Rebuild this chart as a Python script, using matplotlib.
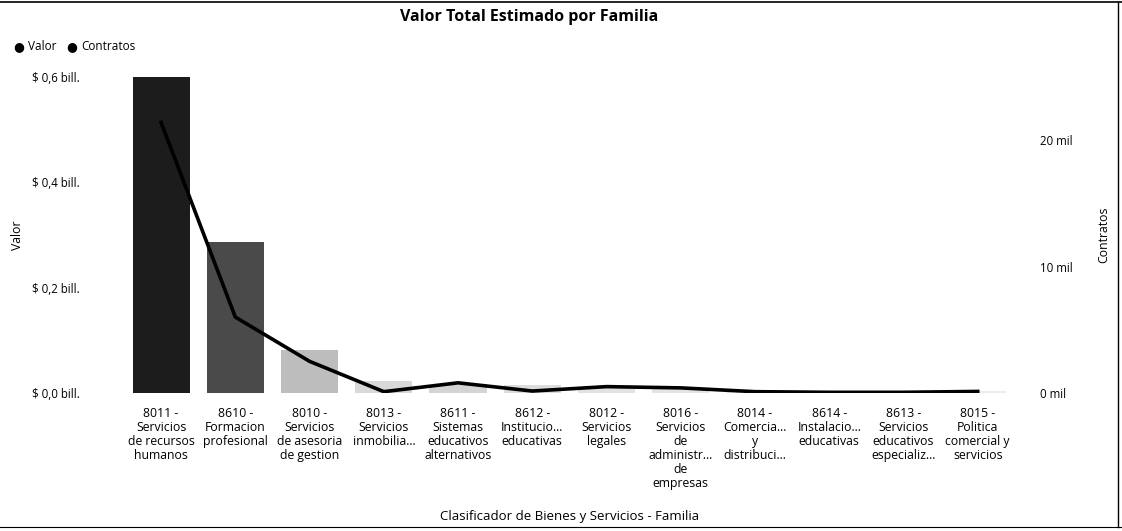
import matplotlib.pyplot as plt
from matplotlib.lines import Line2D
from matplotlib.ticker import FuncFormatter

# Data
categories = [
    "8011 -\nServicios\nde recursos\nhumanos",
    "8610 -\nFormacion\nprofesional",
    "8010 -\nServicios\nde asesoria\nde gestion",
    "8013 -\nServicios\ninmobilia...",
    "8611 -\nSistemas\neducativos\nalternativos",
    "8612 -\nInstitucio...\neducativas",
    "8012 -\nServicios\nlegales",
    "8016 -\nServicios\nde\nadministr...\nde\nempresas",
    "8014 -\nComercia...\ny\ndistribuci...",
    "8614 -\nInstalacio...\neducativas",
    "8613 -\nServicios\neducativos\nespecializ...",
    "8015 -\nPolitica\ncomercial y\nservicios",
]
valor = [0.600, 0.286, 0.082, 0.023, 0.015, 0.015, 0.011, 0.008, 0.003, 0.002, 0.002, 0.003]
contratos = [21400, 6000, 2500, 100, 800, 150, 500, 400, 100, 50, 50, 120]
bar_colors = ["#1c1c1c", "#4a4a4a", "#bdbdbd", "#d9d9d9", "#d4d4d4", "#dcdcdc",
              "#e2e2e2", "#e4e4e4", "#ececec", "#efefef", "#efefef", "#ececec"]

plt.rcParams['font.family'] = ['Open Sans', 'DejaVu Sans']

fig = plt.figure(figsize=(11.22, 5.31), dpi=100)
ax = fig.add_axes([0.1105, 0.26, 0.794, 0.595])
ax2 = ax.twinx()

x = list(range(len(categories)))
ax.bar(x, valor, width=0.77, color=bar_colors, zorder=2)
ax2.plot(x, contratos, color="black", linewidth=2.6, zorder=3)

ax.set_xlim(-0.5, len(categories) - 0.5)
ax.set_ylim(0, 0.6)
ax2.set_ylim(0, 25000)
ax.set_yticks([0, 0.2, 0.4, 0.6])
ax2.set_yticks([0, 10000, 20000])
ax.yaxis.set_major_formatter(FuncFormatter(lambda v, p: "$ " + f"{v:.1f}".replace(".", ",") + " bill."))
ax2.yaxis.set_major_formatter(FuncFormatter(lambda v, p: f"{v/1000:.0f} mil"))

ax.set_xticks(x)
ax.set_xticklabels(categories, fontsize=8.8, linespacing=1.1, va="top")

for a in (ax, ax2):
    for s in a.spines.values():
        s.set_visible(False)
    a.tick_params(length=0)
ax.tick_params(axis="y", labelsize=8.3, pad=66)
ax2.tick_params(axis="y", labelsize=8.3, pad=18)
ax.tick_params(axis="x", pad=10)
for lbl in ax.get_yticklabels():
    lbl.set_horizontalalignment("left")

ax.set_ylabel("Valor", fontsize=8.8, labelpad=0)
ax.yaxis.set_label_coords(-0.112, 0.5)
ax2.set_ylabel("Contratos", fontsize=8.8)
ax2.yaxis.set_label_coords(1.092, 0.5)
ax.set_xlabel("Clasificador de Bienes y Servicios - Familia", fontsize=9.5)
ax.xaxis.set_label_coords(0.5, -0.37)

fig.text(0.472, 0.968, "Valor Total Estimado por Familia", ha="center", va="center",
         fontsize=11.5, fontweight="bold")

# legend
fig.text(0.012, 0.912, "\u25CF", fontsize=9, va="center", color="black")
fig.text(0.025, 0.912, "Valor", fontsize=8.5, va="center")
fig.text(0.059, 0.912, "\u25CF", fontsize=9, va="center", color="black")
fig.text(0.072, 0.912, "Contratos", fontsize=8.5, va="center")

# frame of the visual
fig.add_artist(Line2D([0, 1], [0.996, 0.996], color="black", linewidth=1.2))
fig.add_artist(Line2D([0, 1], [0.008, 0.008], color="black", linewidth=0.8))
fig.add_artist(Line2D([0.996, 0.996], [0.008, 0.996], color="black", linewidth=1.0))

fig.savefig("out.png", dpi=100)
